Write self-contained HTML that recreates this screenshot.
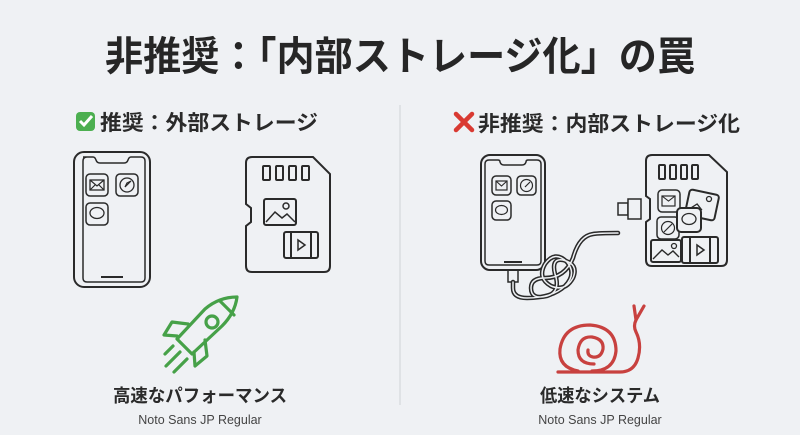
<!DOCTYPE html>
<html><head><meta charset="utf-8"><style>
html,body{margin:0;padding:0;background:#eff1f4;}
svg{display:block}
text{font-family:"Liberation Sans","Noto Sans CJK JP",sans-serif;}
</style></head><body>
<svg width="800" height="435" viewBox="0 0 800 435" xmlns="http://www.w3.org/2000/svg">
<rect width="800" height="435" fill="#eff1f4"/>
<text x="400" y="70" text-anchor="middle" font-size="40" font-weight="bold" fill="#262626" textLength="590" lengthAdjust="spacingAndGlyphs">非推奨：「内部ストレージ化」の罠</text>
<line x1="400" y1="105" x2="400" y2="405" stroke="#cfd2d6" stroke-width="1"/>

<rect x="76" y="112" width="19" height="19" rx="4" fill="#4caf50"/>
<path d="M80 121 l4 4 l8 -9" stroke="#fff" stroke-width="3" fill="none"/>
<text x="100" y="130" font-size="21" font-weight="bold" fill="#2a2a2a" textLength="218" lengthAdjust="spacingAndGlyphs">推奨：外部ストレージ</text>

<g fill="none" stroke="#2a2a2a" stroke-width="2">
<rect x="74" y="152" width="76" height="135" rx="10"/>
<path d="M83 157 h10 q2 0 3 3 q1 3 4 3 h24 q3 0 4 -3 q1 -3 3 -3 h10 q4 0 4 4 v117 q0 4 -4 4 h-54 q-4 0 -4 -4 v-117 q0 -4 4 -4z" stroke-width="1.5"/>
<line x1="101" y1="277" x2="123" y2="277"/>
<rect x="86" y="174" width="22" height="22" rx="4" stroke-width="1.5"/>
<rect x="90" y="180" width="14" height="10" stroke-width="1.3"/><path d="M90 180 l7 6 l7 -6 M90 190 l5 -5 M104 190 l-5 -5" stroke-width="1.2"/>
<rect x="116" y="174" width="22" height="22" rx="4" stroke-width="1.5"/>
<circle cx="127" cy="185" r="7" stroke-width="1.3"/><path d="M131 181 l-6 6 l2 -4z" stroke-width="1.2"/>
<rect x="86" y="203" width="22" height="22" rx="4" stroke-width="1.5"/>
<ellipse cx="97" cy="213" rx="7" ry="5.5" stroke-width="1.3"/>
<path d="M254 157 h59 l17 17 v92 q0 6 -6 6 h-72 q-6 0 -6 -6 v-40 l5 -4 v-14 l-5 -4 v-41 q0 -6 6 -6z"/>
<rect x="263" y="166" width="7" height="14" rx="1"/><rect x="276" y="166" width="7" height="14" rx="1"/><rect x="289" y="166" width="7" height="14" rx="1"/><rect x="302" y="166" width="7" height="14" rx="1"/>
<rect x="264" y="199" width="32" height="26" rx="2"/>
<path d="M266 222 l9 -10 l7 6 l5 -4 l8 8" stroke-width="1.5"/><circle cx="286" cy="206" r="3" stroke-width="1.5"/>
<rect x="284" y="232" width="34" height="26" rx="2"/>
<line x1="291" y1="232" x2="291" y2="258"/><line x1="311" y1="232" x2="311" y2="258"/>
<path d="M298 240 v10 l7 -5z" stroke-width="1.5"/>

<rect x="481" y="155" width="64" height="115" rx="9"/>
<path d="M489 160 h9 q2 0 2 2 q1 3 4 3 h18 q3 0 4 -3 q0 -2 2 -2 h9 q4 0 4 4 v97 q0 4 -4 4 h-48 q-4 0 -4 -4 v-97 q0 -4 4 -4z" stroke-width="1.5"/>
<line x1="504" y1="262" x2="522" y2="262"/>
<rect x="492" y="176" width="19" height="19" rx="4" stroke-width="1.5"/>
<rect x="496" y="181" width="11" height="9" stroke-width="1.2"/><path d="M496 181 l5.5 5 l5.5 -5" stroke-width="1.1"/>
<rect x="517" y="176" width="19" height="19" rx="4" stroke-width="1.5"/>
<circle cx="526.5" cy="185.5" r="6" stroke-width="1.2"/><path d="M530 182 l-5 5" stroke-width="1.2"/>
<rect x="492" y="201" width="19" height="19" rx="4" stroke-width="1.5"/>
<ellipse cx="501.5" cy="210" rx="6" ry="4.5" stroke-width="1.2"/>
<!-- plug at phone bottom -->
<rect x="508" y="270" width="10" height="12" stroke-width="1.5"/>
</g>
<!-- cable (double line) -->
<g fill="none" stroke-linecap="round">
<path id="c1" d="M513 282 v6 q0 10 14 10 q25 0 38 -12 q12 -12 2 -24 q-12 -12 -22 2 q-8 14 6 22 q14 6 22 -8 q6 -14 -10 -18 q-12 -2 -8 14 q6 18 -8 22 q-16 4 -16 -8 q0 -10 14 -10 q20 0 28 -20 q6 -22 20 -24 q6 -1 25 -1" stroke="#2a2a2a" stroke-width="4.5"/>
<path d="M513 282 v6 q0 10 14 10 q25 0 38 -12 q12 -12 2 -24 q-12 -12 -22 2 q-8 14 6 22 q14 6 22 -8 q6 -14 -10 -18 q-12 -2 -8 14 q6 18 -8 22 q-16 4 -16 -8 q0 -10 14 -10 q20 0 28 -20 q6 -22 20 -24 q6 -1 25 -1" stroke="#eff1f4" stroke-width="1.5"/>
</g>
<g fill="none" stroke="#2a2a2a" stroke-width="2">
<rect x="618" y="203" width="10" height="12" stroke-width="1.5" fill="#eff1f4"/>
<rect x="628" y="199" width="13" height="20" stroke-width="1.5" fill="#eff1f4"/>
<path d="M652 155 h57 l18 17 v88 q0 6 -6 6 h-69 q-6 0 -6 -6 v-38 l4 -3 v-20 l-4 -3 v-35 q0 -6 6 -6z"/>
<rect x="659" y="165" width="6" height="14" rx="1"/><rect x="670" y="165" width="6" height="14" rx="1"/><rect x="681" y="165" width="6" height="14" rx="1"/><rect x="692" y="165" width="6" height="14" rx="1"/>
<rect x="658" y="190" width="22" height="22" rx="4" stroke-width="1.5"/>
<rect x="662" y="196" width="13" height="10" stroke-width="1.2"/><path d="M662 196 l6.5 5 l6.5 -5" stroke-width="1.1"/>
<rect x="687" y="192" width="30" height="26" rx="3" transform="rotate(12 702 205)" fill="#eff1f4"/>
<path d="M690 212 l7 -7 l6 5" stroke-width="1.3" transform="rotate(12 702 205)"/><circle cx="709" cy="199" r="2.5" stroke-width="1.3"/>
<rect x="657" y="217" width="22" height="22" rx="4" stroke-width="1.5" fill="#eff1f4"/>
<circle cx="668" cy="228" r="6.5" stroke-width="1.2"/><path d="M672 224 l-8 8" stroke-width="1.2"/>
<rect x="677" y="208" width="24" height="24" rx="4" fill="#eff1f4"/>
<ellipse cx="689" cy="219" rx="7" ry="5.5" stroke-width="1.3"/>
<rect x="651" y="240" width="30" height="22" rx="2" fill="#eff1f4"/>
<path d="M653 259 l9 -9 l6 5 l5 -4 l6 6" stroke-width="1.4"/><circle cx="674" cy="246" r="2.5" stroke-width="1.3"/>
<rect x="682" y="237" width="36" height="26" rx="2" fill="#eff1f4"/>
<line x1="690" y1="237" x2="690" y2="263"/><line x1="710" y1="237" x2="710" y2="263"/>
<path d="M697 245 v10 l7 -5z" stroke-width="1.5"/>
</g>

<!-- rocket -->
<g fill="none" stroke="#46a148" stroke-width="3.2" stroke-linejoin="round" stroke-linecap="round">
<path d="M237 297 q-18 0 -32 12 l-28 30 l15 15 l30 -28 q13 -13 15 -29z"/>
<circle cx="212" cy="322" r="6"/>
<path d="M220 301 l14 14"/>
<path d="M188 324 l-16 -2 l-8 13 l13 1"/>
<path d="M205 340 l2 16 l-12 10 l-1 -14"/>
<path d="M180 352 l-14 14 M187 359 l-13 13 M173 346 l-8 8"/>
</g>
<!-- snail -->
<g fill="none" stroke="#c8413f" stroke-width="3.2" stroke-linecap="round" stroke-linejoin="round">
<path d="M558 372 h62 q14 0 18 -14 q4 -14 -2 -26 q-3 -6 0 -12"/>
<path d="M636 320 l-2 -14 M636 320 l8 -14"/>
<path d="M578 371 q-20 -4 -18 -22 q4 -24 30 -24 q26 2 26 26 q-2 20 -24 20"/>
<path d="M594 364 q-16 0 -16 -14 q2 -14 14 -13 q12 2 11 12 q-2 9 -10 8 q-6 -1 -5 -7"/>
</g>

<path d="M456 114 l16 16 M472 114 l-16 16" stroke="#d93a32" stroke-width="4.5" stroke-linecap="round"/>
<text x="478" y="131" font-size="21" font-weight="bold" fill="#2a2a2a" textLength="262" lengthAdjust="spacingAndGlyphs">非推奨：内部ストレージ化</text>

<text x="200" y="402" text-anchor="middle" font-size="18" font-weight="bold" fill="#2a2a2a" textLength="174" lengthAdjust="spacingAndGlyphs">高速なパフォーマンス</text>
<text x="200" y="424" text-anchor="middle" font-size="12.5" fill="#444">Noto Sans JP Regular</text>
<text x="600" y="402" text-anchor="middle" font-size="18" font-weight="bold" fill="#2a2a2a" textLength="120" lengthAdjust="spacingAndGlyphs">低速なシステム</text>
<text x="600" y="424" text-anchor="middle" font-size="12.5" fill="#444">Noto Sans JP Regular</text>
</svg>
</body></html>
